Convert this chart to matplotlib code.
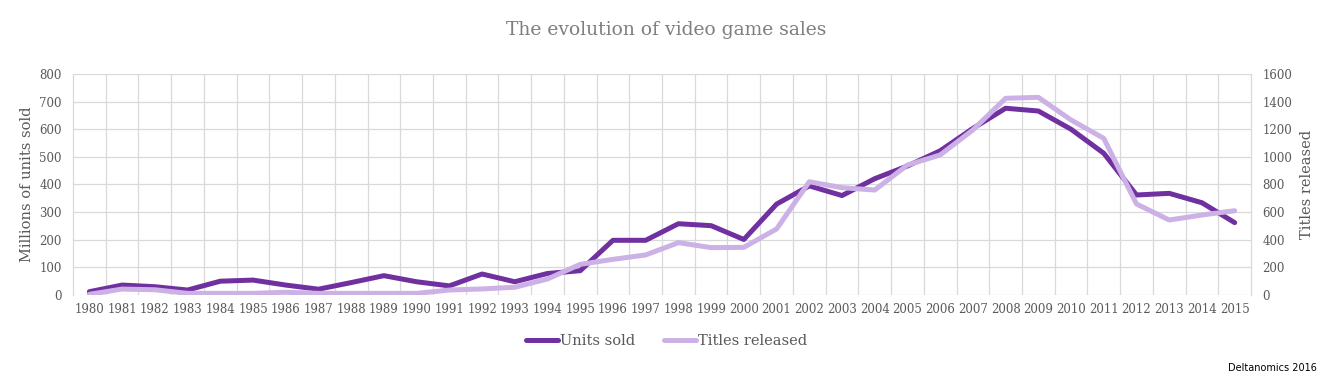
import numpy as np
import matplotlib
matplotlib.use("Agg")
import matplotlib.pyplot as plt

plt.rcParams.update({
    "font.family": "DejaVu Serif",
    "font.size": 8,
    "axes.unicode_minus": False,
})

years = [str(y) for y in range(1980, 2016)]

units_sold = [12, 36, 30, 18, 50, 54, 36, 21, 45, 70, 48, 33,
              76, 48, 78, 88, 198, 198, 258, 251, 201, 329, 395, 360,
              421, 467, 522, 603, 676, 666, 600, 513, 362, 368, 334, 262]

titles_released = [5, 43, 38, 12, 12, 12, 20, 12, 12, 12, 12, 36,
                   44, 56, 116, 222, 258, 290, 379, 343, 345, 478, 820, 777,
                   760, 941, 1014, 1195, 1424, 1431, 1267, 1134, 659, 543, 579, 610]

DARK = "#7030a0"
LIGHT = "#ccb1e6"
TEXT = "#595959"
GRID = "#d9d9d9"


def main():
    fig = plt.figure(figsize=(13.33, 3.81), dpi=100)
    ax = fig.add_axes([0.0548, 0.2257, 0.8837, 0.5801])
    ax2 = ax.twinx()

    x = np.arange(len(years))

    l1, = ax.plot(x, units_sold, color=DARK, linewidth=3.6,
                  solid_capstyle="round", solid_joinstyle="round", label="Units sold")
    l2, = ax2.plot(x, titles_released, color=LIGHT, linewidth=3.6,
                   solid_capstyle="round", solid_joinstyle="round", label="Titles released")

    ax.set_xlim(-0.5, len(years) - 0.5)
    ax.set_ylim(0, 800)
    ax2.set_ylim(0, 1600)
    ax.set_yticks(range(0, 801, 100))
    ax2.set_yticks(range(0, 1601, 200))

    ax.set_xticks(x)
    ax.set_xticklabels(years)
    ax.set_xticks(np.arange(0.5, len(years) - 1, 1), minor=True)

    ax.grid(axis="y", which="major", color=GRID, linewidth=0.9)
    ax.grid(axis="x", which="minor", color=GRID, linewidth=0.9)
    ax.set_axisbelow(True)

    for a in (ax, ax2):
        for s in a.spines.values():
            s.set_visible(False)
        a.tick_params(which="both", length=0, colors=TEXT, labelsize=8.5)
    # category borders at the two ends
    for side in ("left", "right"):
        ax.spines[side].set_visible(True)
        ax.spines[side].set_color(GRID)
        ax.spines[side].set_linewidth(0.9)
    ax.tick_params(axis="x", pad=6)
    ax.tick_params(axis="y", pad=8)
    ax2.tick_params(axis="y", pad=8)

    ax.set_ylabel("Millions of units sold", color=TEXT, fontsize=10.5, labelpad=4)
    ax2.set_ylabel("Titles released", color=TEXT, fontsize=10.5, labelpad=6)

    fig.text(0.5, 0.92, "The evolution of video game sales", ha="center", va="center",
             color="#7f7f7f", fontsize=13.5)

    fig.legend(handles=[l1, l2], loc="center", bbox_to_anchor=(0.5, 0.105), ncol=2,
               frameon=False, fontsize=10.5, handlelength=2.2, handletextpad=0.1,
               columnspacing=2.0, labelcolor=TEXT)

    fig.text(0.988, 0.035, "Deltanomics 2016", ha="right", va="center",
             fontsize=7, family="DejaVu Sans", color="black")

    fig.savefig("out.png", dpi=100)


if __name__ == "__main__":
    main()
